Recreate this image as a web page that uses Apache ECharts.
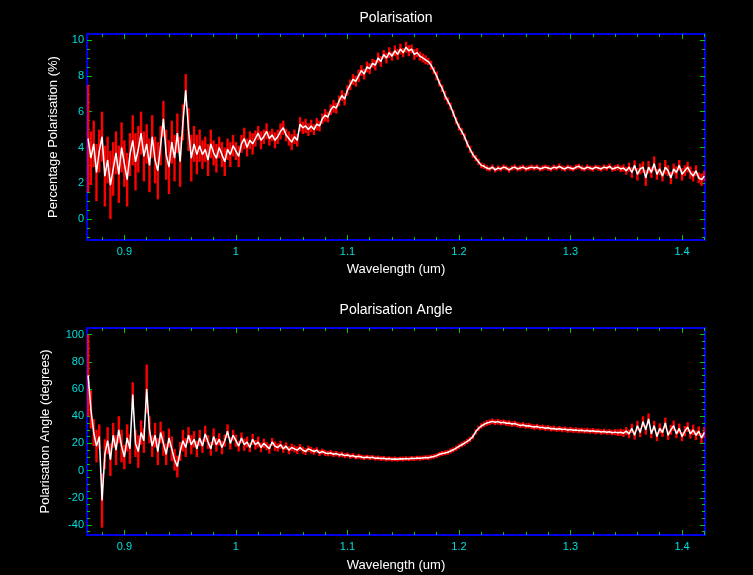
<!DOCTYPE html>
<html>
<head>
<meta charset="utf-8">
<title>Polarisation</title>
<script src="https://cdn.jsdelivr.net/npm/echarts@6/dist/echarts.min.js"></script>
<style>
    html, body { margin: 0; padding: 0; background: #000; }
    #chart { width: 753px; height: 575px; }
</style>
</head>
<body>
<div id="chart"></div>
<script>
// wavelength samples (um)
var wavelength = [
    0.8675, 0.87, 0.8725, 0.875, 0.8775, 0.88, 0.8825, 0.885, 0.8875, 0.89, 0.8925, 0.895, 0.8975, 0.9, 0.9025, 0.905, 0.9075, 0.91, 0.9125, 0.915,
    0.9175, 0.92, 0.9225, 0.925, 0.9275, 0.93, 0.9325, 0.935, 0.9375, 0.94, 0.9425, 0.945, 0.9475, 0.95, 0.9525, 0.955, 0.9575, 0.96, 0.9625, 0.965,
    0.9675, 0.97, 0.9725, 0.975, 0.9775, 0.98, 0.9825, 0.985, 0.9875, 0.99, 0.9925, 0.995, 0.9975, 1.0, 1.0025, 1.005, 1.0075, 1.01, 1.0125, 1.015,
    1.0175, 1.02, 1.0225, 1.025, 1.0275, 1.03, 1.0325, 1.035, 1.0375, 1.04, 1.0425, 1.045, 1.0475, 1.05, 1.0525, 1.055, 1.0575, 1.06, 1.0625, 1.065,
    1.0675, 1.07, 1.0725, 1.075, 1.0775, 1.08, 1.0825, 1.085, 1.0875, 1.09, 1.0925, 1.095, 1.0975, 1.1, 1.1025, 1.105, 1.1075, 1.11, 1.1125, 1.115,
    1.1175, 1.12, 1.1225, 1.125, 1.1275, 1.13, 1.1325, 1.135, 1.1375, 1.14, 1.1425, 1.145, 1.1475, 1.15, 1.1525, 1.155, 1.1575, 1.16, 1.1625, 1.165,
    1.1675, 1.17, 1.1725, 1.175, 1.1775, 1.18, 1.1825, 1.185, 1.1875, 1.19, 1.1925, 1.195, 1.1975, 1.2, 1.2025, 1.205, 1.2075, 1.21, 1.2125, 1.215,
    1.2175, 1.22, 1.2225, 1.225, 1.2275, 1.23, 1.2325, 1.235, 1.2375, 1.24, 1.2425, 1.245, 1.2475, 1.25, 1.2525, 1.255, 1.2575, 1.26, 1.2625, 1.265,
    1.2675, 1.27, 1.2725, 1.275, 1.2775, 1.28, 1.2825, 1.285, 1.2875, 1.29, 1.2925, 1.295, 1.2975, 1.3, 1.3025, 1.305, 1.3075, 1.31, 1.3125, 1.315,
    1.3175, 1.32, 1.3225, 1.325, 1.3275, 1.33, 1.3325, 1.335, 1.3375, 1.34, 1.3425, 1.345, 1.3475, 1.35, 1.3525, 1.355, 1.3575, 1.36, 1.3625, 1.365,
    1.3675, 1.37, 1.3725, 1.375, 1.3775, 1.38, 1.3825, 1.385, 1.3875, 1.39, 1.3925, 1.395, 1.3975, 1.4, 1.4025, 1.405, 1.4075, 1.41, 1.4125, 1.415,
    1.4175, 1.42
];

// percentage polarisation (%) and its error
var polPct = [
    4.5, 3.4, 4.2, 2.6, 3.8, 4.6, 2.4, 3.3, 1.9, 2.8, 3.7, 2.5, 4.0, 3.1, 2.2, 3.6, 4.4, 3.2, 3.9, 4.8,
    3.5, 4.2, 3.0, 4.6, 3.3, 2.7, 4.1, 5.6, 3.6, 2.9, 4.3, 3.4, 4.8, 3.2, 5.4, 7.2, 5.0, 3.4, 4.2, 3.6,
    4.1, 3.6, 3.9, 3.3, 4.2, 3.7, 3.4, 4.0, 3.6, 3.2, 3.9, 3.6, 4.1, 3.8, 3.5, 4.2, 4.5, 4.0, 4.4, 4.2,
    4.5, 4.8, 4.4, 4.6, 4.9, 4.5, 4.7, 4.4, 4.6, 4.9, 5.1, 4.7, 4.5, 4.3, 4.6, 4.4, 5.3, 5.1, 5.2, 5.0,
    5.2, 5.0, 5.3, 5.2, 5.6, 5.8, 5.7, 6.1, 6.3, 6.2, 6.6, 6.9, 6.7, 7.2, 7.5, 7.8, 7.7, 8.0, 8.3, 8.1,
    8.5, 8.4, 8.7, 8.6, 9.0, 8.8, 9.2, 9.0, 9.3, 9.1, 9.4, 9.2, 9.5, 9.3, 9.6, 9.4, 9.5, 9.2, 9.3, 9.1,
    9.0, 8.9, 8.8, 8.6, 8.3, 8.0, 7.6, 7.3, 6.9, 6.6, 6.3, 5.9, 5.5, 5.15, 4.9, 4.6, 4.2, 3.9, 3.6, 3.4,
    3.2, 3.0, 2.95, 2.85, 2.8, 2.9, 2.75, 2.85, 2.8, 2.9, 2.85, 2.75, 2.85, 2.9, 2.8, 2.85, 2.9, 2.8, 2.85, 2.9,
    2.85, 2.9, 2.8, 2.85, 2.9, 2.85, 2.8, 2.9, 2.85, 2.95, 2.85, 2.8, 2.9, 2.85, 2.8, 2.9, 2.95, 2.85, 2.8, 2.9,
    2.85, 2.8, 2.9, 2.85, 2.8, 2.9, 2.85, 2.95, 2.8, 2.85, 2.9, 2.8, 2.85, 2.7, 2.9, 2.6, 3.0, 2.5, 2.8, 2.9,
    2.3, 2.9, 2.6, 3.1, 2.5, 2.8, 2.4, 2.9, 2.7, 2.3, 2.8, 2.6, 3.0, 2.5, 2.7, 2.9, 2.6, 2.4, 2.7, 2.3,
    2.2, 2.4
];
var polPctErr = [
    3.0, 1.5, 1.3, 1.6, 1.2, 1.4, 1.7, 1.3, 1.9, 1.5, 1.2, 1.6, 1.4, 1.3, 1.5, 1.2, 1.4, 1.6, 1.3, 1.2,
    1.4, 1.1, 1.5, 1.2, 1.3, 1.6, 1.1, 1.0, 1.4, 1.5, 1.2, 1.3, 1.1, 1.4, 1.0, 0.9, 1.2, 1.3, 1.0, 1.1,
    0.9, 0.8, 0.7, 0.9, 0.8, 0.7, 0.8, 0.6, 0.7, 0.8, 0.6, 0.7, 0.6, 0.5, 0.6, 0.5, 0.6, 0.5, 0.5, 0.6,
    0.45, 0.4, 0.5, 0.4, 0.45, 0.4, 0.35, 0.45, 0.4, 0.45, 0.4, 0.35, 0.4, 0.45, 0.4, 0.35, 0.4, 0.35, 0.4, 0.35,
    0.35, 0.3, 0.35, 0.3, 0.3, 0.35, 0.3, 0.3, 0.35, 0.3, 0.3, 0.3, 0.35, 0.3, 0.3, 0.3, 0.3, 0.35, 0.3, 0.3,
    0.3, 0.3, 0.25, 0.3, 0.3, 0.3, 0.25, 0.3, 0.3, 0.25, 0.3, 0.3, 0.3, 0.25, 0.3, 0.3, 0.25, 0.3, 0.25, 0.25,
    0.25, 0.25, 0.2, 0.25, 0.2, 0.25, 0.2, 0.2, 0.25, 0.2, 0.2, 0.2, 0.2, 0.2, 0.2, 0.2, 0.2, 0.2, 0.18, 0.18,
    0.18, 0.16, 0.15, 0.15, 0.14, 0.15, 0.14, 0.15, 0.14, 0.15, 0.14, 0.15, 0.14, 0.15, 0.14, 0.15, 0.14, 0.15, 0.14, 0.15,
    0.14, 0.15, 0.14, 0.15, 0.14, 0.15, 0.14, 0.15, 0.14, 0.15, 0.14, 0.15, 0.14, 0.15, 0.14, 0.15, 0.14, 0.15, 0.14, 0.15,
    0.14, 0.15, 0.14, 0.15, 0.14, 0.15, 0.15, 0.16, 0.15, 0.16, 0.17, 0.18, 0.2, 0.22, 0.25, 0.3, 0.28, 0.35, 0.3, 0.32,
    0.45, 0.35, 0.3, 0.4, 0.3, 0.35, 0.3, 0.4, 0.3, 0.35, 0.3, 0.35, 0.3, 0.35, 0.3, 0.3, 0.35, 0.3, 0.3, 0.3,
    0.35, 0.3
];

// polarisation angle (degrees) and its error
var polAngle = [
    70, 45, 28, 18, 25, -22, 12, 22, 8, 26, 15, 30, 18, 10, 24, 16, 56, 20, 14, 28,
    22, 60, 30, 18, 26, 14, 28, 20, 12, 24, 16, 8, 3, 14, 22, 17, 26, 19, 23, 16,
    24, 18, 27, 21, 16, 25, 19, 23, 17, 22, 29, 20, 26, 22, 18, 24, 19, 21, 17, 23,
    19, 21, 17, 20, 18, 16, 21, 18, 17, 19, 16, 18, 15, 17, 16, 15, 17, 15, 14, 16,
    15, 14, 15, 13, 14, 13, 12.5, 13, 12, 12.5, 11.5, 12, 11, 11.5, 10.5, 11, 10, 10.5, 10, 9.5,
    10, 9.5, 9.8, 9, 9.3, 8.8, 9, 8.5, 8.8, 8.4, 8.6, 8.3, 8.7, 8.5, 8.8, 8.6, 9, 8.8, 9.2, 9,
    9.3, 9.6, 9.5, 10, 10.4, 11, 12, 12.6, 13, 13.5, 14.4, 15.3, 16.5, 17.8, 19, 20.2, 21.5, 23, 25, 28.5,
    31, 32.8, 34, 35, 35.5, 36.2, 35.5, 36, 35.2, 35.6, 34.8, 35, 34.2, 34.6, 33.8, 33.2, 33.6, 32.8, 33, 32.4,
    32, 32.4, 31.6, 31.8, 31.2, 31.5, 30.8, 31, 30.4, 30.8, 30.2, 30.5, 29.8, 30.2, 29.6, 29.9, 29.4, 29.7, 29.2, 29.5,
    29, 29.3, 28.7, 29, 28.4, 28.8, 28.2, 28.5, 27.9, 28.3, 27.8, 28.2, 27.5, 29, 27, 31, 26, 33, 28, 36,
    30, 38, 27, 33, 25, 31, 28, 35, 26, 30, 33, 27, 31, 25, 29, 32, 27, 30, 26, 29,
    24, 28
];
var polAngleErr = [
    30, 14, 10, 12, 9, 20, 11, 10, 12, 9, 11, 10, 12, 9, 10, 11, 9, 10, 12, 9,
    9, 18, 10, 8, 9, 10, 8, 9, 8, 7, 9, 8, 8, 7, 8, 7, 6, 7, 6, 6,
    6, 5, 6, 5, 5, 6, 5, 4.5, 5, 4.5, 5, 4.5, 4, 4.5, 4, 4, 4.5, 4, 3.5, 4,
    3.5, 4, 3.5, 3.5, 3, 3.5, 3, 3.5, 3, 3, 3, 2.8, 3, 2.8, 2.6, 2.8, 2.5, 2.6, 2.5, 2.4,
    2.4, 2.3, 2.2, 2.3, 2.1, 2.2, 2, 2.1, 2, 2, 1.9, 2, 1.9, 1.8, 1.9, 1.8, 1.8, 1.8, 1.7, 1.8,
    1.7, 1.8, 1.7, 1.7, 1.8, 1.7, 1.7, 1.8, 1.7, 1.7, 1.8, 1.7, 1.7, 1.8, 1.7, 1.7, 1.8, 1.7, 1.7, 1.8,
    1.7, 1.7, 1.8, 1.7, 1.7, 1.8, 1.7, 1.8, 1.8, 1.8, 1.9, 1.8, 1.9, 1.9, 1.9, 2, 1.9, 2, 2, 2,
    2, 2, 2, 2.1, 2, 2.1, 2, 2.1, 2, 2, 2.1, 2, 2, 2.1, 2, 2, 2.1, 2, 2, 2,
    2, 2, 1.9, 2, 2, 1.9, 2, 2, 1.9, 2, 2, 1.9, 2, 2, 1.9, 2, 2, 1.9, 2, 2,
    1.9, 2, 2, 1.9, 2, 2, 1.9, 2, 2, 2.2, 2.4, 2.6, 2.8, 3, 3.2, 3.5, 3.2, 3.6, 3.4, 4,
    3.5, 4, 3.2, 3.6, 3.4, 3.8, 3.2, 4, 3.4, 3.6, 3.8, 3.2, 3.6, 3.4, 3.8, 3.6, 3.4, 3.8, 3.5, 3.6,
    3.8, 4
];

// axis ranges and ticks
var xRange = [0.8665, 1.4206];
var xMajor = [0.9, 1, 1.1, 1.2, 1.3, 1.4];
var xMinor = [0.88, 0.9, 0.92, 0.94, 0.96, 0.98, 1, 1.02, 1.04, 1.06, 1.08, 1.1, 1.12, 1.14, 1.16,
    1.18, 1.2, 1.22, 1.24, 1.26, 1.28, 1.3, 1.32, 1.34, 1.36, 1.38, 1.4, 1.42];
var pctRange = [-1.17, 10.34];
var pctMajor = [0, 2, 4, 6, 8, 10];
var pctMinor = [-1, -0.5, 0, 0.5, 1, 1.5, 2, 2.5, 3, 3.5, 4, 4.5, 5, 5.5, 6, 6.5, 7, 7.5, 8, 8.5, 9, 9.5, 10];
var angRange = [-47.4, 104.9];
var angMajor = [-40, -20, 0, 20, 40, 60, 80, 100];
var angMinor = [-45, -40, -35, -30, -25, -20, -15, -10, -5, 0, 5, 10, 15, 20, 25, 30, 35, 40, 45,
    50, 55, 60, 65, 70, 75, 80, 85, 90, 95, 100];

var FONT = '"Liberation Sans", Arial, sans-serif';
var TICK = '#00c800';
var LABEL = '#00dede';

function axis(dim, gridIndex, range, position, ticks, len, labels, name, nameGap) {
    var a = {
        type: 'value',
        gridIndex: gridIndex,
        min: range[0],
        max: range[1],
        position: position,
        axisLine: {show: false, onZero: false},
        splitLine: {show: false},
        axisTick: {show: true, inside: true, length: len, customValues: ticks,
            lineStyle: {color: TICK, width: 1}},
        axisLabel: {show: !!labels, customValues: labels || undefined,
            color: LABEL, fontSize: 11, fontFamily: FONT, margin: dim === 'x' ? 6 : 3}
    };
    if (name) {
        a.name = name;
        a.nameLocation = 'middle';
        a.nameGap = nameGap;
        a.nameTextStyle = {color: '#ffffff', fontSize: 13, fontFamily: FONT};
        if (dim === 'y') a.nameRotate = 90;
    }
    return a;
}

function points(ys) {
    return wavelength.map(function (x, i) { return [x, ys[i]]; });
}
function bars(ys, errs) {
    return wavelength.map(function (x, i) { return [x, ys[i], errs[i]]; });
}

function errorBars(p, api) {
    var x = api.value(0), y = api.value(1), e = api.value(2);
    var lo = api.coord([x, y - e]);
    var hi = api.coord([x, y + e]);
    return {
        type: 'line',
        shape: {x1: lo[0], y1: lo[1], x2: hi[0], y2: hi[1]},
        style: {stroke: '#ff0000', lineWidth: 2.4}
    };
}

var chart = echarts.init(document.getElementById('chart'));

chart.setOption({
    backgroundColor: '#000000',
    animation: false,
    textStyle: {fontFamily: FONT},
    grid: [
        {left: 87, top: 34, width: 618, height: 206, show: true,
            borderColor: '#0000e8', borderWidth: 2, backgroundColor: 'transparent'},
        {left: 87, top: 328, width: 618, height: 207, show: true,
            borderColor: '#0000e8', borderWidth: 2, backgroundColor: 'transparent'}
    ],
    xAxis: [
        axis('x', 0, xRange, 'bottom', xMajor, 5, xMajor, 'Wavelength (um)', 23),
        axis('x', 0, xRange, 'bottom', xMinor, 3),
        axis('x', 0, xRange, 'top', xMajor, 5),
        axis('x', 0, xRange, 'top', xMinor, 3),
        axis('x', 1, xRange, 'bottom', xMajor, 5, xMajor, 'Wavelength (um)', 24),
        axis('x', 1, xRange, 'bottom', xMinor, 3),
        axis('x', 1, xRange, 'top', xMajor, 5),
        axis('x', 1, xRange, 'top', xMinor, 3)
    ],
    yAxis: [
        axis('y', 0, pctRange, 'left', pctMajor, 5, pctMajor, 'Percentage Polarisation (%)', 27),
        axis('y', 0, pctRange, 'left', pctMinor, 3),
        axis('y', 0, pctRange, 'right', pctMajor, 5),
        axis('y', 0, pctRange, 'right', pctMinor, 3),
        axis('y', 1, angRange, 'left', angMajor, 5, angMajor, 'Polarisation Angle (degrees)', 35),
        axis('y', 1, angRange, 'left', angMinor, 3),
        axis('y', 1, angRange, 'right', angMajor, 5),
        axis('y', 1, angRange, 'right', angMinor, 3)
    ],
    series: [
        {
            type: 'custom', xAxisIndex: 0, yAxisIndex: 0, clip: true,
            renderItem: errorBars, encode: {x: 0, y: 1},
            data: bars(polPct, polPctErr), z: 2
        },
        {
            type: 'line', xAxisIndex: 0, yAxisIndex: 0, symbol: 'none',
            lineStyle: {color: '#ffffff', width: 1.5}, data: points(polPct), z: 3
        },
        {
            type: 'custom', xAxisIndex: 4, yAxisIndex: 4, clip: true,
            renderItem: errorBars, encode: {x: 0, y: 1},
            data: bars(polAngle, polAngleErr), z: 2
        },
        {
            type: 'line', xAxisIndex: 4, yAxisIndex: 4, symbol: 'none',
            lineStyle: {color: '#ffffff', width: 1.5}, data: points(polAngle), z: 3
        }
    ],
    graphic: [
        {type: 'text', x: 396, y: 18, style: {text: 'Polarisation', fill: '#ffffff',
            font: '14px ' + FONT, textAlign: 'center', textVerticalAlign: 'middle'}},
        {type: 'text', x: 396, y: 310, style: {text: 'Polarisation Angle', fill: '#ffffff',
            font: '14px ' + FONT, textAlign: 'center', textVerticalAlign: 'middle'}}
    ]
});
</script>
</body>
</html>
